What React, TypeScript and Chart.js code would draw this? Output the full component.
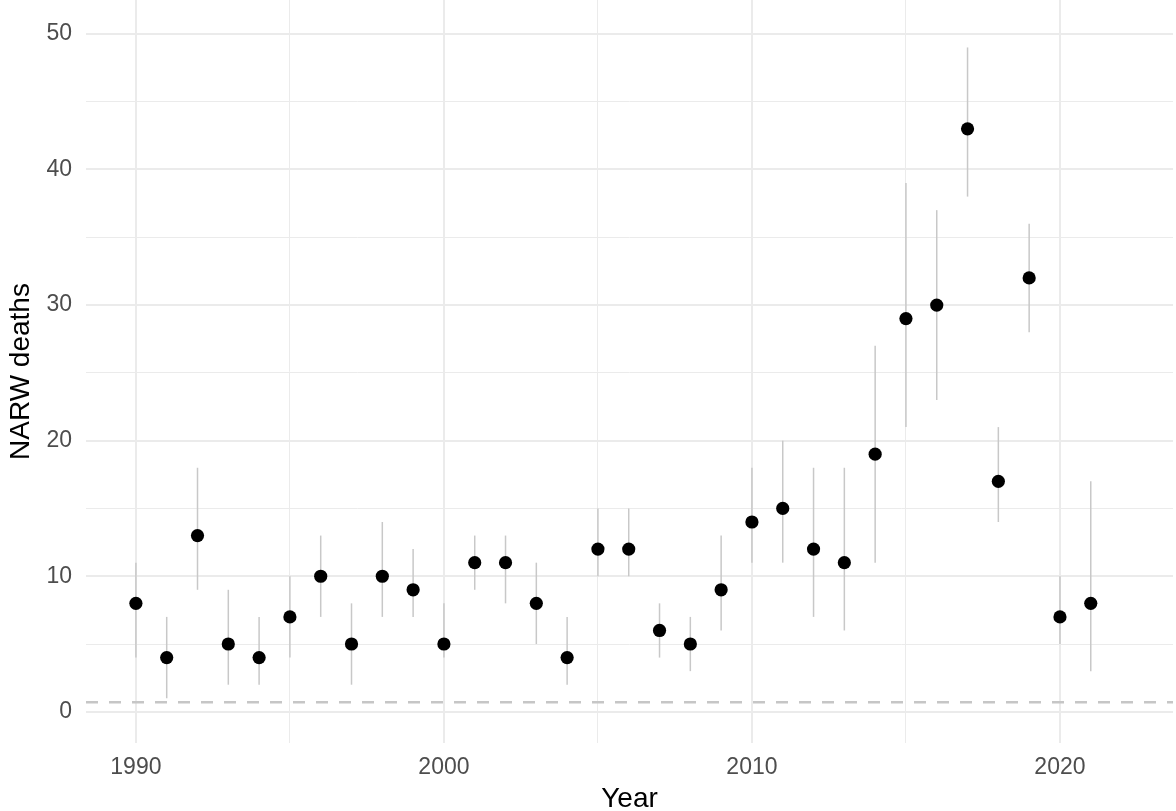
import React, { useEffect, useRef } from "react";
import { Chart, registerables } from "chart.js";

Chart.register(...registerables);

const years = [1990, 1991, 1992, 1993, 1994, 1995, 1996, 1997, 1998, 1999, 2000, 2001, 2002, 2003, 2004, 2005, 2006, 2007, 2008, 2009, 2010, 2011, 2012, 2013, 2014, 2015, 2016, 2017, 2018, 2019, 2020, 2021];
const deaths = [8, 4, 13, 5, 4, 7, 10, 5, 10, 9, 5, 11, 11, 8, 4, 12, 12, 6, 5, 9, 14, 15, 12, 11, 19, 29, 30, 43, 17, 32, 7, 8];
const lower = [4, 1, 9, 2, 2, 4, 7, 2, 7, 7, 4, 9, 8, 5, 2, 10, 10, 4, 3, 6, 11, 11, 7, 6, 11, 21, 23, 38, 14, 28, 5, 3];
const upper = [11, 7, 18, 9, 7, 10, 13, 8, 14, 12, 8, 13, 13, 11, 7, 15, 15, 8, 7, 13, 18, 20, 18, 18, 27, 39, 37, 49, 21, 36, 10, 17];
const pbr = 0.7;
const xTicks = [1990, 1995, 2000, 2005, 2010, 2015, 2020];
const yTicks = [0, 5, 10, 15, 20, 25, 30, 35, 40, 45, 50];

const FONT = "'Liberation Sans', Arial, Helvetica, sans-serif";

const errorBarPlugin = {
  id: "errorBars",
  beforeDatasetsDraw(chart: any) {
    const { ctx, chartArea, scales } = chart;
    const xs = scales.x;
    const ys = scales.y;
    ctx.save();
    ctx.strokeStyle = "#c6c6c6";
    ctx.lineWidth = 2.6;
    ctx.setLineDash([12, 11]);
    const yp = ys.getPixelForValue(pbr);
    ctx.beginPath();
    ctx.moveTo(chartArea.left, yp);
    ctx.lineTo(chartArea.right, yp);
    ctx.stroke();
    ctx.setLineDash([]);
    ctx.strokeStyle = "#c8c8c8";
    ctx.lineWidth = 1.5;
    years.forEach((yr, i) => {
      const x = xs.getPixelForValue(yr);
      ctx.beginPath();
      ctx.moveTo(x, ys.getPixelForValue(lower[i]));
      ctx.lineTo(x, ys.getPixelForValue(upper[i]));
      ctx.stroke();
    });
    ctx.restore();
  },
};

export default function App() {
  const ref = useRef<HTMLCanvasElement>(null);
  useEffect(() => {
    if (!ref.current) return;
    const chart = new Chart(ref.current, {
      type: "scatter",
      data: {
        datasets: [
          {
            data: years.map((y, i) => ({ x: y, y: deaths[i] })),
            backgroundColor: "#000000",
            borderColor: "#000000",
            pointRadius: 6.6,
            borderWidth: 0,
          },
        ],
      },
      options: {
        animation: false,
        responsive: false,
        layout: { autoPadding: false, padding: { top: 0, right: 3, left: 0, bottom: 0 } },
        plugins: { legend: { display: false }, tooltip: { enabled: false } },
        scales: {
          x: {
            type: "linear",
            min: 1988.38,
            max: 2023.67,
            afterBuildTicks: (axis: any) => {
              axis.ticks = xTicks.map((v) => ({ value: v }));
            },
            afterFit: (axis: any) => {
              axis.height = 68;
              axis.paddingLeft = 0;
              axis.paddingRight = 0;
              axis.paddingTop = 0;
              axis.paddingBottom = 0;
            },
            border: { display: false },
            grid: {
              color: "#ebebeb",
              lineWidth: (c: any) => (c.tick && c.tick.value % 10 === 0 ? 2 : 1),
              drawTicks: false,
            },
            ticks: {
              padding: 11,
              color: "#4d4d4d",
              font: { family: FONT, size: 23 },
              callback: (v: any) => (Number(v) % 10 === 0 ? String(v) : ""),
              maxRotation: 0,
              autoSkip: false,
            },
            title: {
              display: true,
              text: "Year",
              color: "#000000",
              font: { family: FONT, size: 28, lineHeight: 1 },
              padding: { top: 0, bottom: -2 },
            },
          },
          y: {
            type: "linear",
            min: -2.3,
            max: 52.5,
            afterBuildTicks: (axis: any) => {
              axis.ticks = yTicks.map((v) => ({ value: v }));
            },
            afterFit: (axis: any) => {
              axis.width = 86;
              axis.paddingLeft = 0;
              axis.paddingRight = 0;
              axis.paddingTop = 0;
              axis.paddingBottom = 0;
            },
            border: { display: false },
            grid: {
              color: "#ebebeb",
              lineWidth: (c: any) => (c.tick && c.tick.value % 10 === 0 ? 2 : 1),
              drawTicks: false,
            },
            ticks: {
              padding: 14,
              color: "#4d4d4d",
              font: { family: FONT, size: 23 },
              callback: (v: any) => (Number(v) % 10 === 0 ? String(v) : ""),
              autoSkip: false,
            },
            title: {
              display: true,
              text: "NARW deaths",
              color: "#000000",
              font: { family: FONT, size: 28, lineHeight: 1 },
              padding: { top: 7, bottom: 0 },
            },
          },
        },
      },
      plugins: [errorBarPlugin],
    });
    return () => chart.destroy();
  }, []);
  return (
    <div style={{ position: "fixed", left: 0, top: 0, width: 1176, height: 811, background: "#ffffff" }}>
      <canvas ref={ref} width={1176} height={811} style={{ display: "block", width: 1176, height: 811 }} />
    </div>
  );
}
